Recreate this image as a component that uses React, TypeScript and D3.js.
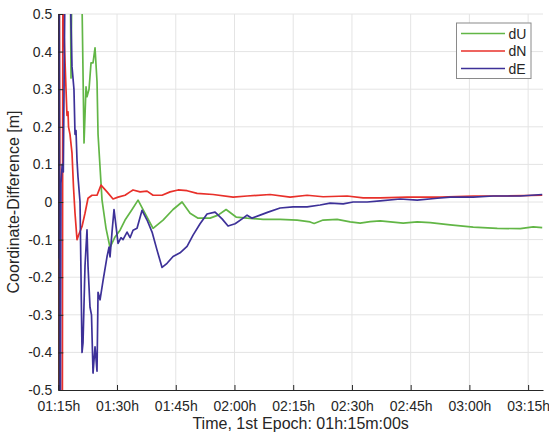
import React, { useEffect, useRef } from "react";
import * as d3 from "d3";

// minutes since first epoch (01:15), value in metres
const dU: [number, number][] = [
  [0, -0.9], [0.3, 0.9], [0.7, 0.6], [2.86, 0.9], [3.25, 0.33], [3.63, 0.8],
  [4.52, 0.9], [5.03, 0.55], [5.55, 0.9], [6.57, 0.157], [7.08, 0.306],
  [7.33, 0.28], [7.85, 0.3], [8.36, 0.37], [8.87, 0.37], [9.38, 0.41],
  [9.89, 0.32], [10.15, 0.18], [11.17, 0.005], [12.19, -0.07], [13.21, -0.121],
  [14.49, -0.093], [15.77, -0.075], [17.05, -0.048], [18.84, -0.02],
  [20.37, 0.005], [22.16, -0.03], [24.2, -0.07], [26.76, -0.048],
  [29.31, -0.02], [31.61, 0.0], [33.66, -0.03], [35.7, -0.043],
  [38.77, -0.043], [40.81, -0.035], [42.86, -0.02], [45.41, -0.04],
  [48.22, -0.043], [52.31, -0.046], [56.65, -0.046], [61.0, -0.048],
  [64.32, -0.053], [65.34, -0.057], [67.64, -0.048], [71.22, -0.046],
  [74.55, -0.053], [77.1, -0.056], [79.66, -0.052], [82.21, -0.05],
  [88.09, -0.056], [91.67, -0.053], [94.99, -0.055], [100.1, -0.061],
  [105.98, -0.067], [112.12, -0.07], [118.0, -0.071], [121.3, -0.066],
  [123.6, -0.068],
];

const dN: [number, number][] = [
  [0.1, -0.9], [0.2, 0.9], [0.6, -0.9], [1.0, -0.9], [1.2, 0.9],
  [1.46, 0.45], [1.97, 0.3], [2.22, 0.23], [2.48, 0.24], [2.61, 0.2],
  [2.99, 0.18], [3.5, 0.13], [3.88, 0.04], [4.27, -0.03], [4.78, -0.1],
  [5.29, -0.085], [6.06, -0.065], [6.82, -0.03], [7.59, 0.01], [8.61, 0.018],
  [9.89, 0.018], [10.91, 0.045], [12.45, 0.027], [13.98, 0.008],
  [15.26, 0.013], [17.05, 0.018], [18.33, 0.027], [19.09, 0.032],
  [20.88, 0.027], [22.67, 0.029], [24.2, 0.018], [26.5, 0.018],
  [28.55, 0.027], [30.59, 0.032], [32.89, 0.03], [35.45, 0.023],
  [39.54, 0.02], [44.65, 0.013], [48.22, 0.016], [54.1, 0.02], [59.21, 0.013],
  [63.55, 0.018], [67.64, 0.014], [73.77, 0.016], [77.86, 0.011],
  [82.21, 0.011], [89.11, 0.013], [97.54, 0.013], [105.98, 0.016],
  [114.66, 0.016], [123.6, 0.018],
];

const dE: [number, number][] = [
  [0, -0.15], [0.18, 0.9], [0.43, -0.9], [0.69, 0.05], [1.0, 0.1],
  [1.28, 0.08], [1.97, 0.9], [2.99, 0.6], [3.5, 0.36], [4.0, 0.3],
  [4.27, 0.18], [4.52, 0.19], [4.78, 0.11], [5.03, 0.067], [5.55, 0.0],
  [6.06, -0.4], [6.31, -0.375], [6.82, -0.17], [7.33, -0.074], [7.59, -0.17],
  [8.1, -0.28], [8.48, -0.3], [8.87, -0.455], [9.38, -0.385], [9.89, -0.45],
  [10.15, -0.24], [10.66, -0.26], [11.42, -0.21], [12.45, -0.145],
  [12.96, -0.12], [13.21, -0.146], [13.72, -0.08], [14.23, -0.02],
  [14.75, -0.065], [15.26, -0.11], [16.02, -0.095], [16.53, -0.1],
  [17.56, -0.08], [18.33, -0.095], [19.09, -0.075], [20.11, -0.07],
  [21.39, -0.022], [22.67, -0.048], [23.95, -0.08], [25.22, -0.128],
  [26.5, -0.174], [27.78, -0.163], [29.31, -0.145], [31.1, -0.135],
  [32.89, -0.118], [34.42, -0.088], [36.21, -0.058], [37.99, -0.032],
  [40.04, -0.027], [41.83, -0.045], [43.36, -0.064], [45.16, -0.058],
  [46.95, -0.045], [48.22, -0.035], [49.5, -0.043], [51.54, -0.035],
  [53.59, -0.027], [56.65, -0.016], [59.98, -0.013], [63.55, -0.013],
  [66.87, -0.008], [69.43, -0.003], [72.76, -0.005], [75.31, 0.0],
  [78.89, 0.0], [82.21, 0.003], [87.32, 0.008], [91.67, 0.005],
  [96.78, 0.01], [100.1, 0.013], [105.98, 0.013], [111.1, 0.016],
  [118.0, 0.016], [123.6, 0.02],
];

const seriesNames = ["dU", "dN", "dE"];
const seriesColors = ["#62b646", "#e8302a", "#3d3198"];
const xTicks = [0, 15, 30, 45, 60, 75, 90, 105, 120];
const yTicks = [-0.5, -0.4, -0.3, -0.2, -0.1, 0, 0.1, 0.2, 0.3, 0.4, 0.5];

const fmtTime = (m: number) => {
  const total = 75 + m;
  const h = Math.floor(total / 60);
  const mm = total % 60;
  return `${String(h).padStart(2, "0")}:${String(mm).padStart(2, "0")}h`;
};

const App = () => {
  const ref = useRef<SVGSVGElement>(null);

  useEffect(() => {
    const width = 549;
    const height = 437;
    const margin = { top: 14, right: 6, bottom: 47, left: 58.3 };
    const axisColor = "#262626";
    const font = "'Liberation Sans', Arial, sans-serif";

    const svg = d3.select(ref.current).attr("width", width).attr("height", height);
    svg.selectAll("*").remove();

    const x = d3.scaleLinear().domain([0, 123.8]).range([margin.left, width - margin.right]);
    const y = d3.scaleLinear().domain([-0.5, 0.5]).range([height - margin.bottom, margin.top]);

    // grid
    const grid = svg.append("g").attr("stroke", "#e4e4e4").attr("stroke-width", 1);
    grid.selectAll("line.gx")
      .data(xTicks.slice(1))
      .join("line")
      .attr("x1", (d) => x(d)).attr("x2", (d) => x(d))
      .attr("y1", y(-0.5)).attr("y2", y(0.5));
    grid.selectAll("line.gy")
      .data(yTicks.slice(1))
      .join("line")
      .attr("x1", x(0)).attr("x2", x(123.8))
      .attr("y1", (d) => y(d)).attr("y2", (d) => y(d));

    svg.append("clipPath").attr("id", "plotClip")
      .append("rect")
      .attr("x", x(0)).attr("y", y(0.5))
      .attr("width", x(123.8) - x(0)).attr("height", y(-0.5) - y(0.5));

    const line = d3.line<[number, number]>().x((d) => x(d[0])).y((d) => y(d[1]));

    const lines = svg.append("g").attr("clip-path", "url(#plotClip)");
    [dU, dN, dE].forEach((s, i) => {
      lines.append("path")
        .datum(s)
        .attr("fill", "none")
        .attr("stroke", seriesColors[i])
        .attr("stroke-width", 1.7)
        .attr("stroke-linejoin", "round")
        .attr("d", line);
    });

    // axes
    const xAxis = svg.append("g")
      .attr("transform", `translate(0, ${y(-0.5)})`)
      .call(d3.axisBottom(x).tickValues(xTicks).tickFormat((d) => fmtTime(+d)).tickSizeInner(-5).tickSizeOuter(0).tickPadding(11));
    const yAxis = svg.append("g")
      .attr("transform", `translate(${x(0)}, 0)`)
      .call(d3.axisLeft(y).tickValues(yTicks).tickFormat((d) => String(+d)).tickSizeInner(-5).tickSizeOuter(0).tickPadding(6));
    [xAxis, yAxis].forEach((a) => {
      a.select(".domain").attr("stroke", axisColor);
      a.selectAll(".tick line").attr("stroke", axisColor);
      a.selectAll(".tick text").attr("fill", axisColor).style("font-family", font).style("font-size", "14px");
    });

    svg.append("text")
      .attr("x", (x(0) + x(123.8)) / 2)
      .attr("y", 428.5)
      .attr("text-anchor", "middle")
      .attr("fill", axisColor)
      .style("font-family", font)
      .style("font-size", "16px")
      .text("Time, 1st Epoch: 01h:15m:00s");

    svg.append("text")
      .attr("transform", `translate(19, ${(y(0.5) + y(-0.5)) / 2}) rotate(-90)`)
      .attr("text-anchor", "middle")
      .attr("fill", axisColor)
      .style("font-family", font)
      .style("font-size", "16px")
      .text("Coordinate-Difference [m]");

    // legend
    const legend = svg.append("g").attr("transform", "translate(456.5, 23)");
    legend.append("rect")
      .attr("width", 74.5).attr("height", 55.5)
      .attr("fill", "white").attr("stroke", "#8a8a8a").attr("stroke-width", 1);
    seriesNames.forEach((name, i) => {
      const ly = 10.5 + i * 17.5;
      legend.append("line")
        .attr("x1", 4.5).attr("x2", 48.5)
        .attr("y1", ly).attr("y2", ly)
        .attr("stroke", seriesColors[i]).attr("stroke-width", 1.7);
      legend.append("text")
        .attr("x", 52).attr("y", ly + 5)
        .attr("fill", axisColor)
        .style("font-family", font)
        .style("font-size", "14px")
        .text(name);
    });
  }, []);

  return (
    <div style={{ position: "absolute", left: 0, top: 0 }}>
      <svg ref={ref} style={{ display: "block", background: "white" }} />
    </div>
  );
};

export default App;
